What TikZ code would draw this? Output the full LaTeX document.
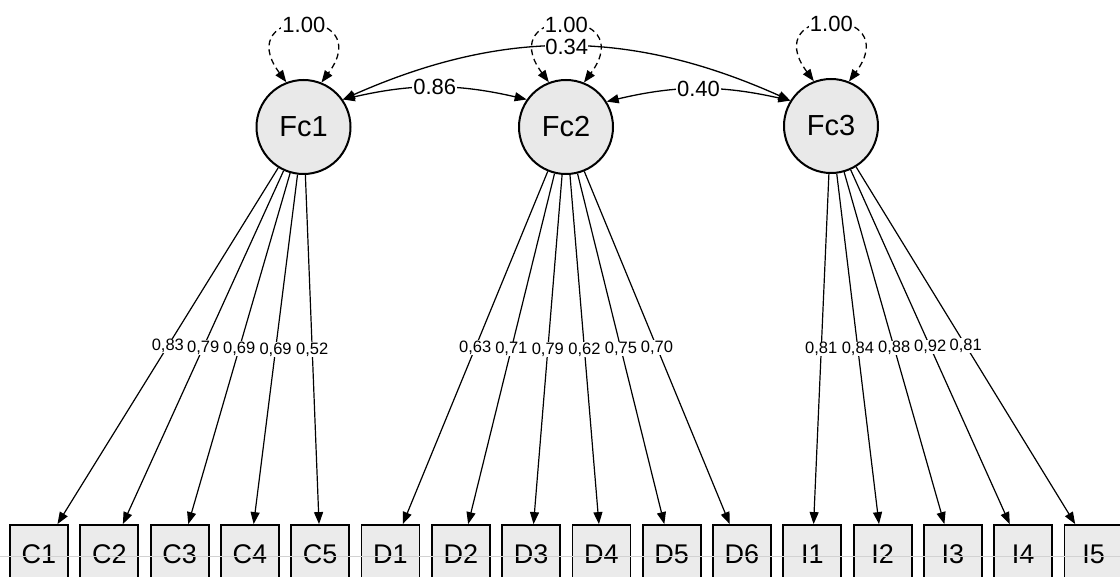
\documentclass[tikz,border=0pt]{standalone}
\usepackage{fontspec}
\setmainfont{Liberation Sans}
\usetikzlibrary{arrows.meta}
\begin{document}
\begin{tikzpicture}[x=1pt,y=-1pt,
  lat/.style={circle,draw,line width=2pt,fill=gray!17,minimum size=94pt,inner sep=0pt,font=\fontsize{29}{32}\selectfont},
  obs/.style={rectangle,draw,line width=1.8pt,fill=gray!16,minimum width=58pt,minimum height=58pt,inner sep=0pt,font=\fontsize{27}{30}\selectfont},
  tip/.style={-{Triangle[length=12pt,width=9pt]}},
  both/.style={{Triangle[length=12pt,width=9pt]}-{Triangle[length=12pt,width=9pt]}},
  load/.style={tip,line width=1.2pt},
  cov/.style={both,line width=1.3pt},
  var/.style={both,line width=1.3pt,dash pattern=on 6pt off 4pt},
  lbl/.style={fill=white,inner sep=0.5pt,font=\fontsize{16.5}{18}\selectfont},
  clbl/.style={fill=white,inner sep=1pt,font=\fontsize{22}{24}\selectfont}]
\useasboundingbox (0,0) rectangle (1120,577);
\node[lat] (Fc1) at (303.5,127) {Fc1};
\node[lat] (Fc2) at (566,127) {Fc2};
\node[lat] (Fc3) at (831,126) {Fc3};
\foreach \n [count=\i from 0] in {C1,C2,C3,C4,C5,D1,D2,D3,D4,D5,D6,I1,I2,I3,I4,I5}{
  \node[obs] (\n) at (39+70.3*\i,554) {\raisebox{-3pt}{\n}};
}
\draw[gray!35,line width=0.5pt] (0,556) -- (1120,556);
% variances
\foreach \f in {Fc1,Fc2,Fc3}{
  \draw[var] (\f.111.5) .. controls +(-57,-77) and +(57,-77) .. node[clbl,pos=0.5]{1.00} (\f.68.5);
}
% covariances
\draw[cov] (Fc1.35) to[bend left=24] node[clbl,pos=0.5,inner sep=0pt]{0.34} (Fc3.148);
\draw[cov] (Fc1.35) to[bend left=13] node[clbl,pos=0.5]{0.86} (Fc2.145);
\draw[cov] (Fc2.32) to[bend left=13] node[clbl,pos=0.5]{0.40} (Fc3.148);
% loadings
\draw[load] (Fc1) -- node[lbl]{0,83} (C1);
\draw[load] (Fc1) -- node[lbl]{0,79} (C2);
\draw[load] (Fc1) -- node[lbl]{0,69} (C3);
\draw[load] (Fc1) -- node[lbl]{0,69} (C4);
\draw[load] (Fc1) -- node[lbl]{0,52} (C5);
\draw[load] (Fc2) -- node[lbl]{0,63} (D1);
\draw[load] (Fc2) -- node[lbl]{0,71} (D2);
\draw[load] (Fc2) -- node[lbl]{0,79} (D3);
\draw[load] (Fc2) -- node[lbl]{0,62} (D4);
\draw[load] (Fc2) -- node[lbl]{0,75} (D5);
\draw[load] (Fc2) -- node[lbl]{0,70} (D6);
\draw[load] (Fc3) -- node[lbl]{0,81} (I1);
\draw[load] (Fc3) -- node[lbl]{0,84} (I2);
\draw[load] (Fc3) -- node[lbl]{0,88} (I3);
\draw[load] (Fc3) -- node[lbl]{0,92} (I4);
\draw[load] (Fc3) -- node[lbl]{0,81} (I5);
\end{tikzpicture}
\end{document}
